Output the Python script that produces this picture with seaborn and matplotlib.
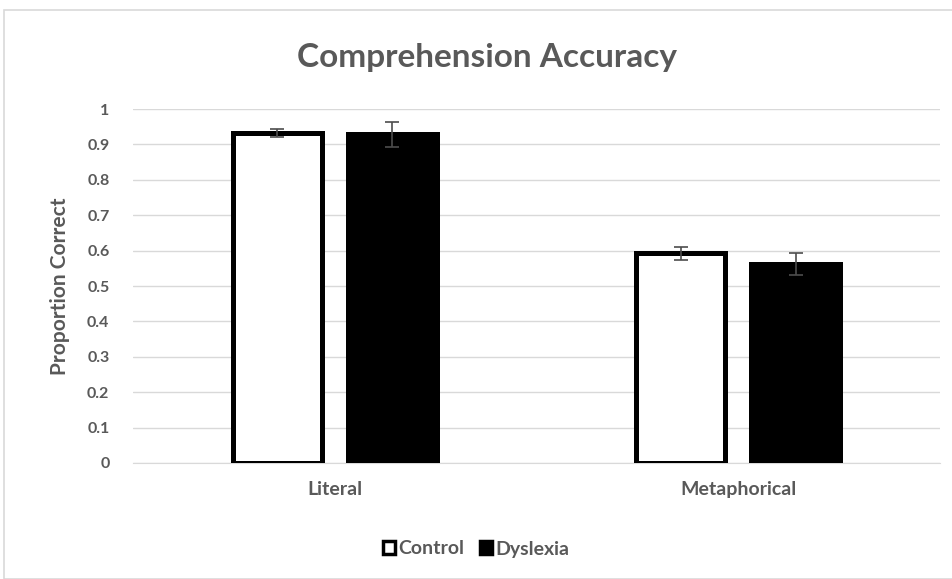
import pandas as pd
import seaborn as sns
import matplotlib.pyplot as plt
from matplotlib.patches import Rectangle

# 数据
categories = ['Literal', 'Metaphorical']
groups = ['Control', 'Dyslexia']
control_vals = [0.932, 0.592]
dyslexia_vals = [0.928, 0.562]
control_err = [0.011, 0.018]
dyslexia_err = [0.034, 0.032]

data = pd.DataFrame({
    'Condition': categories * 2,
    'Group': ['Control'] * 2 + ['Dyslexia'] * 2,
    'Proportion': control_vals + dyslexia_vals,
    'Err': control_err + dyslexia_err,
})

sns.set_style('white')
plt.rcParams['font.family'] = ['Lato', 'DejaVu Sans']
text_color = '#595959'
grid_color = '#d9d9d9'

fig = plt.figure(figsize=(9.52, 5.79), dpi=100)
ax = fig.add_axes([133 / 952, 1 - 463 / 579, (940 - 133) / 952, (463 - 109) / 579])

# 外框
fig.patches.append(Rectangle((4 / 952, 0), 1, 1 - 10 / 579, transform=fig.transFigure,
                             fill=False, edgecolor=grid_color, linewidth=1.2))

sns.barplot(data=data, x='Condition', y='Proportion', hue='Group', ax=ax,
            palette={'Control': 'white', 'Dyslexia': 'black'},
            edgecolor='black', linewidth=3.6, width=0.57, gap=0.23,
            errorbar=None, zorder=3)

# 误差线
for container, grp in zip(ax.containers, groups):
    sub = data[data['Group'] == grp]
    xs = [p.get_x() + p.get_width() / 2 for p in container.patches]
    ax.errorbar(xs, sub['Proportion'], yerr=sub['Err'], fmt='none',
                ecolor='#4d4d4d', elinewidth=1.2, capsize=4.7, capthick=1.2, zorder=4)

ax.set_xlim(-0.5, 1.5)
ax.set_ylim(0, 1)
ax.set_yticks([i / 10 for i in range(11)])
ax.set_yticklabels(['0'] + [f'0.{i}' for i in range(1, 10)] + ['1'])
ax.yaxis.grid(True, color=grid_color, linewidth=1, zorder=0)
ax.set_axisbelow(True)
for s in ['top', 'right', 'left']:
    ax.spines[s].set_visible(False)
ax.spines['bottom'].set_color(grid_color)
ax.tick_params(length=0, colors=text_color)
ax.tick_params(axis='x', pad=13, labelsize=14)
ax.tick_params(axis='y', pad=17, labelsize=11.5)
for lbl in ax.get_xticklabels() + ax.get_yticklabels():
    lbl.set_fontweight('bold')

ax.set_xlabel('')
ax.set_ylabel('Proportion Correct', color=text_color, fontsize=15, fontweight='bold', labelpad=12)
fig.text(487 / 952, 1 - 58 / 579, 'Comprehension Accuracy', ha='center', va='center',
         fontsize=24, fontweight='bold', color=text_color)

leg = ax.legend(loc='center', bbox_to_anchor=(476 / 952, 1 - 549 / 579),
                bbox_transform=fig.transFigure, ncol=2, frameon=False,
                handlelength=0.65, handleheight=0.65, handletextpad=0.15, columnspacing=0.8,
                prop={'weight': 'bold', 'size': 14})
for h in leg.legend_handles:
    h.set_linewidth(2.5)
for t in leg.get_texts():
    t.set_color(text_color)

plt.savefig('out.png', dpi=100)
